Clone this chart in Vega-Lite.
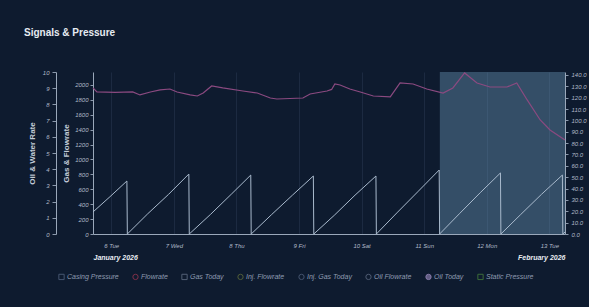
{
  "$schema": "https://vega.github.io/schema/vega-lite/v6.json",
  "width": 472,
  "height": 162,
  "autosize": {"type": "none"},
  "padding": {"left": 93, "top": 72, "right": 24, "bottom": 73},
  "background": "#0e1b2f",
  "title": {"text": "Signals & Pressure", "anchor": "start", "frame": "group", "dx": -69, "offset": 31, "fontSize": 10, "fontWeight": "bold", "color": "#e6ebf2", "font": "Liberation Sans"},
  "datasets": {
    "series": [
      {"series": "Flowrate", "t": "2026-01-05T17:00", "v": 1960},
      {"series": "Flowrate", "t": "2026-01-05T18:30", "v": 1906},
      {"series": "Flowrate", "t": "2026-01-06T01:30", "v": 1900},
      {"series": "Flowrate", "t": "2026-01-06T08:15", "v": 1906},
      {"series": "Flowrate", "t": "2026-01-06T11:00", "v": 1866},
      {"series": "Flowrate", "t": "2026-01-06T15:00", "v": 1906},
      {"series": "Flowrate", "t": "2026-01-06T18:45", "v": 1933},
      {"series": "Flowrate", "t": "2026-01-06T22:30", "v": 1946},
      {"series": "Flowrate", "t": "2026-01-07T01:15", "v": 1906},
      {"series": "Flowrate", "t": "2026-01-07T06:15", "v": 1866},
      {"series": "Flowrate", "t": "2026-01-07T09:00", "v": 1852},
      {"series": "Flowrate", "t": "2026-01-07T11:15", "v": 1892},
      {"series": "Flowrate", "t": "2026-01-07T14:30", "v": 1986},
      {"series": "Flowrate", "t": "2026-01-07T18:45", "v": 1960},
      {"series": "Flowrate", "t": "2026-01-08T02:30", "v": 1919},
      {"series": "Flowrate", "t": "2026-01-08T08:00", "v": 1892},
      {"series": "Flowrate", "t": "2026-01-08T13:00", "v": 1825},
      {"series": "Flowrate", "t": "2026-01-08T15:30", "v": 1812},
      {"series": "Flowrate", "t": "2026-01-09T01:30", "v": 1825},
      {"series": "Flowrate", "t": "2026-01-09T04:15", "v": 1879},
      {"series": "Flowrate", "t": "2026-01-09T10:45", "v": 1919},
      {"series": "Flowrate", "t": "2026-01-09T12:30", "v": 1940},
      {"series": "Flowrate", "t": "2026-01-09T13:45", "v": 2013},
      {"series": "Flowrate", "t": "2026-01-09T15:45", "v": 2000},
      {"series": "Flowrate", "t": "2026-01-09T19:30", "v": 1946},
      {"series": "Flowrate", "t": "2026-01-09T23:30", "v": 1906},
      {"series": "Flowrate", "t": "2026-01-10T04:30", "v": 1852},
      {"series": "Flowrate", "t": "2026-01-10T11:00", "v": 1839},
      {"series": "Flowrate", "t": "2026-01-10T14:45", "v": 2027},
      {"series": "Flowrate", "t": "2026-01-10T19:45", "v": 2013},
      {"series": "Flowrate", "t": "2026-01-11T01:00", "v": 1946},
      {"series": "Flowrate", "t": "2026-01-11T07:15", "v": 1892},
      {"series": "Flowrate", "t": "2026-01-11T11:00", "v": 1960},
      {"series": "Flowrate", "t": "2026-01-11T15:30", "v": 2161},
      {"series": "Flowrate", "t": "2026-01-11T20:15", "v": 2027},
      {"series": "Flowrate", "t": "2026-01-12T01:15", "v": 1973},
      {"series": "Flowrate", "t": "2026-01-12T07:45", "v": 1973},
      {"series": "Flowrate", "t": "2026-01-12T11:30", "v": 2027},
      {"series": "Flowrate", "t": "2026-01-12T15:30", "v": 1799},
      {"series": "Flowrate", "t": "2026-01-12T20:30", "v": 1530},
      {"series": "Flowrate", "t": "2026-01-13T00:15", "v": 1396},
      {"series": "Flowrate", "t": "2026-01-13T06:00", "v": 1262},
      {"series": "Oil Today", "t": "2026-01-05T17:00", "v": 1.36},
      {"series": "Oil Today", "t": "2026-01-05T23:30", "v": 2.3},
      {"series": "Oil Today", "t": "2026-01-06T06:00", "v": 3.27},
      {"series": "Oil Today", "t": "2026-01-06T06:10", "v": 0},
      {"series": "Oil Today", "t": "2026-01-06T14:00", "v": 1.25},
      {"series": "Oil Today", "t": "2026-01-06T22:00", "v": 2.45},
      {"series": "Oil Today", "t": "2026-01-07T05:45", "v": 3.7},
      {"series": "Oil Today", "t": "2026-01-07T05:55", "v": 0},
      {"series": "Oil Today", "t": "2026-01-07T14:00", "v": 1.2},
      {"series": "Oil Today", "t": "2026-01-07T22:00", "v": 2.45},
      {"series": "Oil Today", "t": "2026-01-08T05:30", "v": 3.64},
      {"series": "Oil Today", "t": "2026-01-08T05:40", "v": 0},
      {"series": "Oil Today", "t": "2026-01-08T13:30", "v": 1.2},
      {"series": "Oil Today", "t": "2026-01-08T21:30", "v": 2.4},
      {"series": "Oil Today", "t": "2026-01-09T05:30", "v": 3.58},
      {"series": "Oil Today", "t": "2026-01-09T05:40", "v": 0},
      {"series": "Oil Today", "t": "2026-01-09T13:30", "v": 1.15},
      {"series": "Oil Today", "t": "2026-01-09T21:30", "v": 2.4},
      {"series": "Oil Today", "t": "2026-01-10T05:30", "v": 3.58},
      {"series": "Oil Today", "t": "2026-01-10T05:40", "v": 0},
      {"series": "Oil Today", "t": "2026-01-10T13:30", "v": 1.3},
      {"series": "Oil Today", "t": "2026-01-10T21:30", "v": 2.6},
      {"series": "Oil Today", "t": "2026-01-11T05:45", "v": 3.95},
      {"series": "Oil Today", "t": "2026-01-11T05:55", "v": 0},
      {"series": "Oil Today", "t": "2026-01-11T13:30", "v": 1.25},
      {"series": "Oil Today", "t": "2026-01-11T21:30", "v": 2.55},
      {"series": "Oil Today", "t": "2026-01-12T05:15", "v": 3.77},
      {"series": "Oil Today", "t": "2026-01-12T05:25", "v": 0},
      {"series": "Oil Today", "t": "2026-01-12T13:00", "v": 1.2},
      {"series": "Oil Today", "t": "2026-01-12T21:00", "v": 2.45},
      {"series": "Oil Today", "t": "2026-01-13T05:00", "v": 3.64},
      {"series": "Oil Today", "t": "2026-01-13T05:10", "v": 0},
      {"series": "Oil Today", "t": "2026-01-13T06:00", "v": 0.12}
    ],
    "shade": [{"start": "2026-01-11T06:00", "end": "2026-01-13T06:00"}],
    "legend": [
      {"series": "Casing Pressure"},
      {"series": "Flowrate"},
      {"series": "Gas Today"},
      {"series": "Inj. Flowrate"},
      {"series": "Inj. Gas Today"},
      {"series": "Oil Flowrate"},
      {"series": "Oil Today"},
      {"series": "Static Pressure"}
    ]
  },
  "layer": [
    {
      "data": {"name": "shade"},
      "mark": {"type": "rect", "fill": "#6d9cbc", "opacity": 0.4},
      "encoding": {
        "x": {
          "field": "start", "type": "temporal",
          "scale": {"domain": [{"year": 2026, "month": 1, "date": 5, "hours": 17}, {"year": 2026, "month": 1, "date": 13, "hours": 6}]},
          "axis": {"orient": "bottom", "title": "January 2026", "titleAnchor": "start", "titleAlign": "left", "format": "%-d %a", "tickCount": {"interval": "day", "step": 1}, "grid": true, "gridColor": "#26354e", "gridOpacity": 0.6, "ticks": false, "labelPadding": 8, "titlePadding": 5, "labelFlush": false}
        },
        "x2": {"field": "end"}
      }
    },
    {
      "data": {"name": "series"},
      "transform": [{"filter": "datum.series == 'Flowrate'"}],
      "mark": {"type": "line", "color": "#8b4a80", "strokeWidth": 1.2},
      "encoding": {
        "x": {
          "field": "t", "type": "temporal",
          "scale": {"domain": [{"year": 2026, "month": 1, "date": 5, "hours": 17}, {"year": 2026, "month": 1, "date": 13, "hours": 6}]},
          "axis": {"orient": "bottom", "title": "February 2026", "titleAnchor": "end", "titleAlign": "right", "format": "%-d %a", "tickCount": {"interval": "day", "step": 1}, "grid": false, "domain": false, "ticks": false, "labelOpacity": 0, "labelPadding": 8, "titlePadding": 5, "labelFlush": false}
        },
        "y": {
          "field": "v", "type": "quantitative",
          "scale": {"domain": [0, 2174], "nice": false},
          "axis": {"orient": "left", "title": "Gas & Flowrate", "format": "d", "values": [0, 200, 400, 600, 800, 1000, 1200, 1400, 1600, 1800, 2000], "tickSize": 3, "labelPadding": 2, "titlePadding": 4}
        }
      }
    },
    {
      "data": {"name": "series"},
      "transform": [{"filter": "datum.series == 'Oil Today'"}],
      "mark": {"type": "line", "color": "#a9bacd", "strokeWidth": 1},
      "encoding": {
        "x": {
          "field": "t", "type": "temporal",
          "scale": {"domain": [{"year": 2026, "month": 1, "date": 5, "hours": 17}, {"year": 2026, "month": 1, "date": 13, "hours": 6}]},
          "axis": null
        },
        "y": {
          "field": "v", "type": "quantitative",
          "scale": {"domain": [0, 10], "nice": false},
          "axis": {"orient": "left", "offset": 37, "title": "Oil & Water Rate", "values": [0, 1, 2, 3, 4, 5, 6, 7, 8, 9, 10], "tickSize": 4, "labelPadding": 3, "titlePadding": 6}
        }
      }
    },
    {
      "data": {"name": "legend"},
      "transform": [{"filter": "false"}],
      "mark": {"type": "point"},
      "encoding": {
        "y": {
          "field": "v", "type": "quantitative",
          "scale": {"domain": [0, 142.6], "nice": false},
          "axis": {"orient": "right", "title": null, "values": [0, 10, 20, 30, 40, 50, 60, 70, 80, 90, 100, 110, 120, 130, 140], "format": ".1f", "tickSize": 3, "labelPadding": 3}
        },
        "stroke": {
          "field": "series", "type": "nominal",
          "scale": {"domain": ["Casing Pressure", "Flowrate", "Gas Today", "Inj. Flowrate", "Inj. Gas Today", "Oil Flowrate", "Oil Today", "Static Pressure"],
                    "range": ["#5d6f8c", "#b23a55", "#6f7d93", "#6e7b3c", "#5c6c8a", "#6b7890", "#b9a3dc", "#4e8d3e"]},
          "legend": {"title": null, "orient": "none", "legendX": -35, "legendY": 201}
        },
        "fill": {
          "field": "series", "type": "nominal",
          "scale": {"domain": ["Casing Pressure", "Flowrate", "Gas Today", "Inj. Flowrate", "Inj. Gas Today", "Oil Flowrate", "Oil Today", "Static Pressure"],
                    "range": ["transparent", "transparent", "transparent", "transparent", "transparent", "transparent", "#b9a3dc", "transparent"]},
          "legend": {"title": null, "orient": "none", "legendX": -35, "legendY": 201}
        },
        "shape": {
          "field": "series", "type": "nominal",
          "scale": {"domain": ["Casing Pressure", "Flowrate", "Gas Today", "Inj. Flowrate", "Inj. Gas Today", "Oil Flowrate", "Oil Today", "Static Pressure"],
                    "range": ["square", "circle", "square", "circle", "circle", "circle", "circle", "square"]},
          "legend": {"title": null, "orient": "none", "legendX": -35, "legendY": 201}
        }
      }
    }
  ],
  "resolve": {"scale": {"y": "independent"}, "axis": {"x": "independent"}},
  "config": {
    "font": "Liberation Sans",
    "view": {"stroke": null},
    "axis": {
      "labelFontSize": 6,
      "labelFontStyle": "italic",
      "labelColor": "#aeb9c8",
      "tickColor": "#8a98ab",
      "domainColor": "#9aa8ba",
      "titleFontSize": 8,
      "titleFontWeight": "bold",
      "titleColor": "#c3ccd8",
      "grid": false
    },
    "axisX": {
      "titleFontSize": 7,
      "titleFontStyle": "italic",
      "titleColor": "#e8edf3",
      "labelColor": "#aeb9c8"
    },
    "legend": {
      "direction": "horizontal",
      "labelFontSize": 7,
      "labelFontStyle": "italic",
      "labelColor": "#8e9cb1",
      "symbolSize": 28,
      "symbolStrokeWidth": 1,
      "columnPadding": 11,
      "labelOffset": 2,
      "padding": 0
    }
  }
}
